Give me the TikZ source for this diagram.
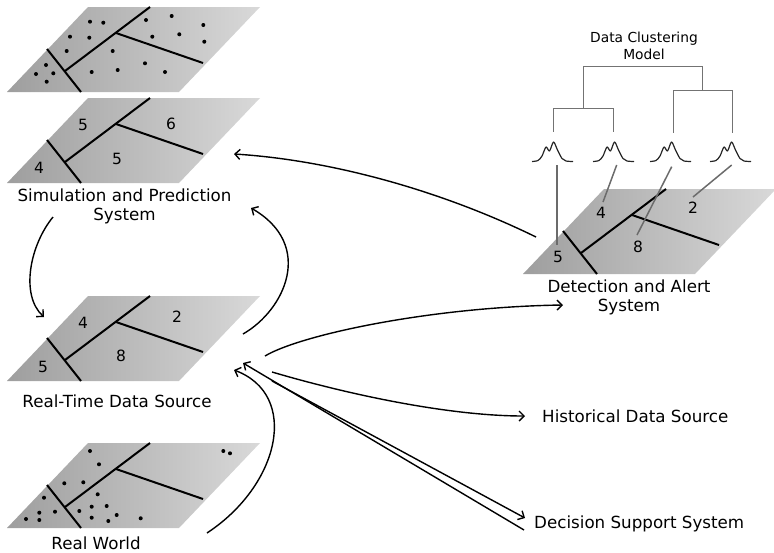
\documentclass[tikz,border=0pt]{standalone}
\usepackage{fontspec}
\setmainfont{DejaVu Sans}
\usetikzlibrary{arrows.meta,calc}
\definecolor{panelL}{gray}{0.62}
\definecolor{panelR}{gray}{0.85}
\definecolor{treeC}{gray}{0.45}
\definecolor{linkC}{gray}{0.42}
\definecolor{bellC}{gray}{0.15}
\tikzset{
  cut/.style={line width=2pt},
  flow/.style={line width=1.4pt, -{Straight Barb[length=5pt,width=10pt]}},
  tree/.style={treeC, line width=1.3pt},
  link/.style={linkC, line width=1.5pt},
  lbl/.style={font=\fontsize{16.7}{19}\selectfont, align=center, inner sep=0pt},
  small/.style={font=\fontsize{13.8}{17}\selectfont, align=center, inner sep=0pt},
  num/.style={font=\fontsize{15.5}{18}\selectfont, inner sep=0pt},
  dot/.style={fill=black},
  % a shaded parallelogram cut into four regions; origin = lower-left corner
  panel/.pic={
    \shade[left color=panelL, right color=panelR]
      (0,0) -- (172,0) -- (253,-85) -- (81,-85) -- cycle;
    \draw[cut] (40,-43) -- (74,0);
    \draw[cut] (58,-21) -- (143,-85);
    \draw[cut] (109,-59) -- (196,-29);
  },
  % a small two-peaked density curve; origin = middle of its baseline
  bell/.pic={
    \draw[bellC, line width=1.2pt, line join=round] plot[smooth, tension=0.5] coordinates
      {(-21,0.5) (-15,-0.5) (-11,-5) (-7,-14) (-3.5,-10) (0.5,-19) (4.5,-11) (9,-2.5) (13,0) (20,0.5)};
  }
}
\begin{document}
\begin{tikzpicture}[x=1pt,y=-1pt]
\useasboundingbox (0,0) rectangle (774,552);

% ---------- panels ----------
\pic (world2) at (7,92) {panel};
\pic (sim) at (7,183) {panel};
\pic (rt) at (7,381) {panel};
\pic (world) at (7,528) {panel};
\pic (det) at (523,274) {panel};

% scattered observations, upper panel
\foreach \p in {(90,21.7),(103.3,22.7),(146,20),(171.7,16),(203.3,25),
  (70,36.7),(89.3,37.7),(152.3,36.7),(179.3,34.3),(204.3,41.7),
  (66.7,51),(112.7,51),(46,65),(145,63.3),(36,74),(53.3,73.3),
  (91.7,72),(117.7,70),(165,72),(46.7,81.7)}
  \fill[dot] \p circle (2pt);

% scattered observations, real world
\foreach \p in {(90,451),(99,464.3),(223.3,451),(230,453.3),(64.3,483.3),
  (83.3,482.3),(97.7,494.3),(44,497.7),(39.3,512.7),(55,511.7),(26,519),
  (39.3,520),(79.3,511),(91.7,506.7),(106.7,506),(91.7,517.7),(116.7,515),
  (108.3,521),(140.7,518.3)}
  \fill[dot] \p circle (2pt);

% ---------- region counts ----------
\node[num] (sA) at (83,125) {5};
\node[num] (sB) at (171,124) {6};
\node[num] (sC) at (117,159) {5};
\node[num] (sD) at (39,168) {4};

\node[num] (rA) at (83,323) {4};
\node[num] (rB) at (177,317) {2};
\node[num] (rC) at (121,356) {8};
\node[num] (rD) at (43,367) {5};

\node[num] (dA) at (601,213) {4};
\node[num] (dB) at (693,208) {2};
\node[num] (dC) at (638,247) {8};
\node[num] (dD) at (558,257) {5};

% ---------- labels ----------
\node[lbl] (simLabel) at (124.5,206.5) {Simulation and Prediction\\System};
\node[lbl] (rtLabel) at (117,401) {Real-Time Data Source};
\node[lbl] (worldLabel) at (96,543) {Real World};
\node[lbl] (detLabel) at (629,297.5) {Detection and Alert\\System};
\node[lbl, anchor=west] (histLabel) at (542,416) {Historical Data Source};
\node[lbl, anchor=west] (decLabel) at (534,524) {Decision Support System};
\node[small] (modelLabel) at (644,45.5) {Data Clustering\\Model};

% ---------- dendrogram ----------
\coordinate (leafA) at (553.3,131.7);
\coordinate (leafB) at (613.3,131.7);
\coordinate (leafC) at (673.3,132.7);
\coordinate (leafD) at (732.3,132.7);
\draw[tree] (583.3,108.3) -- (583.3,66.7) -- (702.7,66.7) -- (702.7,90.7);
\draw[tree] (leafA) -- (553.3,108.3) -- (613.3,108.3) -- (leafB);
\draw[tree] (leafC) -- (673.3,90.7) -- (732.3,90.7) -- (leafD);

\pic (bellA) at (553,161) {bell};
\pic (bellB) at (614,161) {bell};
\pic (bellC) at (671,161) {bell};
\pic (bellD) at (731,161) {bell};

% links from cluster densities to regions
\coordinate (bA) at (557,165);
\coordinate (bB) at (616.7,165);
\coordinate (bC) at (671.7,166.7);
\coordinate (bD) at (731.7,165);
\draw[link] (bA) -- ($(dD)+(-1,-12)$);
\draw[link] (bB) -- ($(dA)+(2,-11)$);
\draw[link] (bC) -- ($(dC)+(-1,-12)$);
\draw[link] (bD) -- ($(dB)+(0,-11)$);

% ---------- connectors ----------
\coordinate (detOut) at (536,237);
\coordinate (simIn1) at (234,154);
\coordinate (simIn2) at (251,208);
\coordinate (simOut) at (53,217);
\coordinate (rtIn1) at (44,317);
\coordinate (rtOut1) at (243,334);
\coordinate (rtIn2) at (234,370);
\coordinate (rtIn3) at (243,363);
\coordinate (rtOut2) at (265,356);
\coordinate (rtOut3) at (272,372);
\coordinate (rtOut4) at (272,381);
\coordinate (worldOut) at (207,533);
\coordinate (detIn) at (563,305);
\coordinate (histIn) at (525,416);
\coordinate (decIn) at (525,518);
\coordinate (decOut) at (524,530);

\draw[flow] (detOut) .. controls (440,190) and (330,160) .. (simIn1);
\draw[flow] (rtOut1) .. controls (285,310) and (315,245) .. (simIn2);
\draw[flow] (simOut) .. controls (30,245) and (20,295) .. (rtIn1);
\draw[flow] (worldOut) .. controls (280,485) and (300,395) .. (rtIn2);
\draw[flow] (rtOut2) .. controls (300,335) and (430,307) .. (detIn);
\draw[flow] (rtOut3) .. controls (350,395) and (450,416) .. (histIn);
\draw[flow] (rtOut4) -- (decIn);
\draw[flow] (decOut) -- (rtIn3);
\end{tikzpicture}
\end{document}
